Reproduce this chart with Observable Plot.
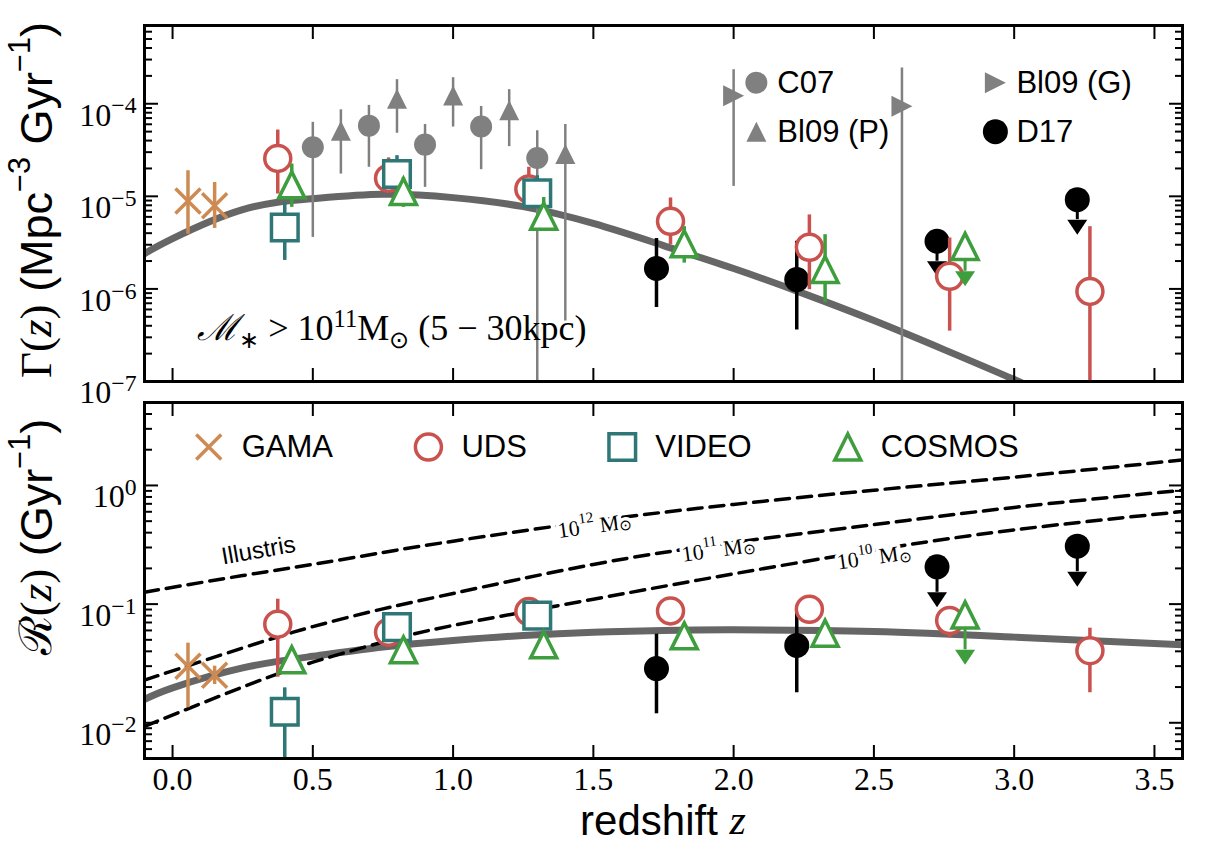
<!DOCTYPE html>
<html>
<head>
<meta charset="utf-8">
<script src="https://cdn.jsdelivr.net/npm/d3@7"></script>
<script src="https://cdn.jsdelivr.net/npm/@observablehq/plot@0.6"></script>
<style>
  html,body{margin:0;padding:0;background:#fff;}
  #chart{position:relative;width:1206px;height:852px;overflow:hidden;background:#fff;}
  #chart svg{display:block;position:absolute;left:0;overflow:visible;background:transparent !important;}
</style>
</head>
<body>
<div id="chart"></div>
<script>
// ---------------- data ----------------
const xTicks = [0, 0.5, 1, 1.5, 2, 2.5, 3, 3.5];
const gammaTicks = [1e-7, 1e-6, 1e-5, 1e-4];
const rateTicks = [1e-2, 1e-1, 1];

// GAMA
const gamaZ = [0.055, 0.15];
const gamaG = [8.9e-6, 7.9e-6];
const gamaGlo = [3.9e-6, 4.5e-6];
const gamaGhi = [1.89e-5, 1.41e-5];
const gamaR = [0.0299, 0.0251];
const gamaRlo = [0.0134, 0.021];
const gamaRhi = [0.0469, 0.030];

// UDS
const udsZ = [0.375, 0.77, 1.27, 1.775, 2.27, 2.77, 3.27];
const udsG = [2.57e-5, 1.57e-5, 1.2e-5, 5.37e-6, 2.82e-6, 1.37e-6, 9.4e-7];
const udsGlo = [1.06e-5, 1.2e-5, 8.6e-6, 3.0e-6, 9.8e-7, 3.5e-7, 1e-8];
const udsGhi = [5.2e-5, 2.6e-5, 2.06e-5, 9.6e-6, 6.3e-6, 3.55e-6, 4.7e-6];
const udsR = [0.0678, 0.058, 0.0865, 0.0877, 0.0905, 0.0727, 0.0405];
const udsRlo = [0.0242, 0.048, 0.078, 0.080, 0.082, 0.052, 0.0179];
const udsRhi = [0.110, 0.066, 0.095, 0.096, 0.099, 0.080, 0.0627];

// VIDEO
const videoZ = [0.40, 0.80, 1.30];
const videoG = [4.6e-6, 1.74e-5, 1.08e-5];
const videoGlo = [2.03e-6, 1.15e-5, 7.3e-6];
const videoGhi = [8.6e-6, 2.75e-5, 1.67e-5];
const videoR = [0.0124, 0.064, 0.080];
const videoRlo = [0.001, 0.057, 0.072];
const videoRhi = [0.0197, 0.071, 0.088];

// COSMOS
const cosmosZ = [0.425, 0.823, 1.323, 1.824, 2.326];
const cosmosG = [1.33e-5, 1.13e-5, 6.1e-6, 3.08e-6, 1.62e-6];
const cosmosGlo = [7.6e-6, 7.6e-6, 4.3e-6, 1.9e-6, 7.1e-7];
const cosmosGhi = [2.23e-5, 1.6e-5, 9.7e-6, 4.7e-6, 3.85e-6];
const cosmosR = [0.034, 0.0412, 0.0454, 0.054, 0.0569];
const cosmosRlo = [0.0293, 0.037, 0.041, 0.049, 0.052];
const cosmosRhi = [0.039, 0.046, 0.050, 0.059, 0.062];
// COSMOS upper limit
const cosmosUlZ = [2.825];
const cosmosUlG = [2.88e-6];
const cosmosUlGend = [1.55e-6];
const cosmosUlR = [0.0811];
const cosmosUlRend = [0.0412];

// D17
const d17Z = [1.725, 2.225];
const d17G = [1.66e-6, 1.26e-6];
const d17Glo = [6.3e-7, 3.6e-7];
const d17Ghi = [3.5e-6, 3.27e-6];
const d17R = [0.0286, 0.0449];
const d17Rlo = [0.0119, 0.0179];
const d17Rhi = [0.0558, 0.0838];
// D17 upper limits
const d17UlZ = [2.725, 3.225];
const d17UlG = [3.27e-6, 9.2e-6];
const d17UlGend = [1.99e-6, 5.6e-6];
const d17UlR = [0.206, 0.308];
const d17UlRend = [0.1257, 0.1874];

// C07 (grey circles)
const c07Z = [0.5, 0.7, 0.9, 1.1, 1.3];
const c07G = [3.39e-5, 5.8e-5, 3.62e-5, 5.68e-5, 2.6e-5];
const c07Glo = [3.6e-6, 2.06e-5, 1.25e-5, 1.94e-5, 1e-8];
const c07Ghi = [6.3e-5, 9.6e-5, 5.97e-5, 9.35e-5, 5.1e-5];

// Bl09 (P) (grey triangles)
const bl09pZ = [0.6, 0.8, 1.0, 1.2, 1.4];
const bl09pG = [5.1e-5, 1.13e-4, 1.23e-4, 8.5e-5, 2.87e-5];
const bl09pGlo = [1.74e-5, 4.8e-5, 5.6e-5, 3.44e-5, 4.5e-7];
const bl09pGhi = [8.6e-5, 1.82e-4, 1.91e-4, 1.42e-4, 5.97e-5];

// Bl09 (G) (grey right triangles)
const bl09gZ = [2.0, 2.6];
const bl09gG = [1.22e-4, 9.4e-5];
const bl09gGlo = [1.28e-5, 1e-8];
const bl09gGhi = [2.33e-4, 2.43e-4];

// fitted curves
const fitZ = [-0.1, 0, 0.25, 0.5, 0.75, 1.0, 1.25, 1.5, 1.75, 2.0, 2.25, 2.5, 2.75, 3.0, 3.25];
const fitGamma = [2.40e-6, 3.49e-6, 7.18e-6, 9.44e-6, 1.05e-5, 9.68e-6, 7.74e-6, 5.09e-6, 2.94e-6, 1.66e-6, 8.9e-7, 4.55e-7, 2.21e-7, 1.05e-7, 4.8e-8];
const fitRateZ = [-0.1, 0, 0.25, 0.5, 0.75, 1.0, 1.25, 1.5, 1.75, 2.0, 2.5, 3.0, 3.6];
const fitRate = [0.0157, 0.0197, 0.029, 0.0363, 0.0435, 0.0494, 0.0544, 0.058, 0.060, 0.0607, 0.0588, 0.0527, 0.0454];

// Illustris merger rates (dashed)
const illZ = [-0.1, 0.25, 0.5, 0.75, 1.0, 1.5, 2.0, 2.5, 3.0, 3.6];
const ill12 = [0.126, 0.174, 0.216, 0.272, 0.339, 0.501, 0.692, 0.912, 1.175, 1.64];
const ill11 = [0.0229, 0.0427, 0.0646, 0.0912, 0.123, 0.216, 0.331, 0.468, 0.653, 0.912];
const ill10 = [0.00933, 0.020, 0.0324, 0.0479, 0.0661, 0.110, 0.180, 0.285, 0.422, 0.603];
const illMassExp = ["12", "11", "10"];
const illLabelZ = [1.507, 1.948, 2.502];
const illLabelR = [0.46, 0.29, 0.25];
const illustrisZ = [0.306];
const illustrisR = [0.283];

// legends
const legTopLabels = ["C07", "Bl09 (P)", "Bl09 (G)", "D17"];
const legTopZ = [2.081, 2.081, 2.933, 2.933];
const legTopG = [1.69e-4, 4.99e-5, 1.69e-4, 4.99e-5];
const legBotLabels = ["GAMA", "UDS", "VIDEO", "COSMOS"];
const legBotZ = [0.129, 0.912, 1.603, 2.407];
const legBotR = [2.11, 2.11, 2.11, 2.11];

// annotation position
const annoZ = [0.09];
const annoG = [2.75e-7];

// ---------------- styles ----------------
const SANS = "'Liberation Sans', Arial, Helvetica, sans-serif";
const SERIF = "'Liberation Serif', 'Times New Roman', serif";
const GREY = "#808080", FIT = "#666666";
const C_GAMA = "#cd8b53", C_UDS = "#c9524f", C_VIDEO = "#2f7777", C_COSMOS = "#3e9e3e";

const rows = (z, v, lo, hi) => z.map((d, i) => ({z: d, v: v[i], lo: lo ? lo[i] : undefined, hi: hi ? hi[i] : undefined}));
const ulRows = (z, v, e) => z.map((d, i) => ({z: d, v: v[i], end: e[i]}));

// matplotlib-like marker shapes
const rr = s => Math.sqrt(s / Math.PI);
const SYM = {
  tri: {draw(c, s) { const r = rr(s); c.moveTo(0, -r); c.lineTo(r, r); c.lineTo(-r, r); c.closePath(); }},
  triRight: {draw(c, s) { const r = rr(s); c.moveTo(r, 0); c.lineTo(-r, r); c.lineTo(-r, -r); c.closePath(); }},
  caret: {draw(c, s) { const r = rr(s); c.moveTo(-r, 0); c.lineTo(r, 0); c.lineTo(0, 1.5 * r); c.closePath(); }},
  square: {draw(c, s) { const r = rr(s); c.moveTo(-r, -r); c.lineTo(r, -r); c.lineTo(r, r); c.lineTo(-r, r); c.closePath(); }},
  times: {draw(c, s) { const r = rr(s); c.moveTo(-r, -r); c.lineTo(r, r); c.moveTo(-r, r); c.lineTo(r, -r); }}
};

function minorTicks(lo, hi) {
  const t = [];
  for (let e = Math.floor(Math.log10(lo)); e <= Math.ceil(Math.log10(hi)); e++)
    for (let m = 2; m <= 9; m++) { const v = m * Math.pow(10, e); if (v >= lo * 0.999 && v <= hi * 1.001) t.push(v); }
  return t;
}

const TICK_FS = 32;
function frameMarks(major, domain) {
  const mn = minorTicks(domain[0], domain[1]);
  return [
    Plot.axisX(xTicks, {anchor: "bottom", tickSize: -13, strokeWidth: 2, fill: "none", label: null}),
    Plot.axisX(xTicks, {anchor: "top", tickSize: -13, strokeWidth: 2, fill: "none", label: null}),
    Plot.axisY(major, {anchor: "left", tickSize: -14, strokeWidth: 2, fill: "none", label: null}),
    Plot.axisY(mn, {anchor: "left", tickSize: -8, strokeWidth: 2, fill: "none", label: null}),
    Plot.axisY(major, {anchor: "right", tickSize: -14, strokeWidth: 2, fill: "none", label: null}),
    Plot.axisY(mn, {anchor: "right", tickSize: -8, strokeWidth: 2, fill: "none", label: null}),
    Plot.axisY(major, {anchor: "left", tickSize: 0, tickPadding: 8, label: null, fontSize: TICK_FS, fontFamily: SERIF,
      tickFormat: d => "10^" + Math.round(Math.log10(d))}),
    Plot.frame({stroke: "black", strokeWidth: 3})
  ];
}

function dataMarks(S) {
  const err = (data, color, w) => Plot.ruleX(data, {x: "z", y1: "lo", y2: "hi", stroke: color, strokeWidth: w, clip: true});
  return [
    err(S.gama, C_GAMA, 3.5),
    Plot.dot(S.gama, {x: "z", y: "v", symbol: SYM.times, r: 12.5, stroke: C_GAMA, strokeWidth: 3.5, fill: "none"}),
    err(S.d17, "black", 3.5),
    Plot.ruleX(S.d17ul, {x: "z", y1: "v", y2: "end", stroke: "black", strokeWidth: 3}),
    Plot.dot(S.d17ul, {x: "z", y: "end", symbol: SYM.caret, r: 10, fill: "black", stroke: "none"}),
    Plot.dot(S.d17.concat(S.d17ul), {x: "z", y: "v", r: 12.5, fill: "black", stroke: "none"}),
    err(S.uds, C_UDS, 3.5),
    Plot.dot(S.uds, {x: "z", y: "v", r: 13, stroke: C_UDS, strokeWidth: 3.5, fill: "white"}),
    err(S.video, C_VIDEO, 3.5),
    Plot.dot(S.video, {x: "z", y: "v", symbol: SYM.square, r: 13.3, stroke: C_VIDEO, strokeWidth: 3.5, fill: "white"}),
    err(S.cosmos, C_COSMOS, 3.5),
    Plot.ruleX(S.cosmosul, {x: "z", y1: "v", y2: "end", stroke: C_COSMOS, strokeWidth: 3}),
    Plot.dot(S.cosmosul, {x: "z", y: "end", symbol: SYM.caret, r: 10, fill: C_COSMOS, stroke: "none"}),
    Plot.dot(S.cosmos.concat(S.cosmosul), {x: "z", y: "v", symbol: SYM.tri, r: 13, stroke: C_COSMOS, strokeWidth: 3.5, fill: "white"})
  ];
}

// rich text helper (superscripts / subscripts as tspans)
function rich(sel, parts, size) {
  let shift = 0;
  parts.forEach(p => {
    const sp = sel.append("tspan").text(p.t);
    if (p.ff) sp.attr("font-family", p.ff);
    if (p.it) sp.attr("font-style", "italic");
    const target = p.sup ? -size * 0.38 : p.sub ? size * 0.22 : 0;
    const dy = target - shift;
    if (dy) sp.attr("dy", dy);
    shift = target;
    if (p.sup || p.sub) sp.attr("font-size", size * 0.68);
  });
}
function supTickLabels(svg, size) {
  d3.select(svg).selectAll('g[aria-label="y-axis tick label"] text').each(function () {
    const m = /^10\^(-?\d+)$/.exec(this.textContent);
    if (!m) return;
    const t = d3.select(this);
    t.text(null).attr("dy", "0.36em");
    t.append("tspan").text("10");
    t.append("tspan").attr("dy", -size * 0.38).attr("font-size", size * 0.74).text(m[1].replace("-", "−"));
  });
}

// ---------------- top panel ----------------
const gDomain = [1e-7, 7e-4];
const topS = {
  gama: rows(gamaZ, gamaG, gamaGlo, gamaGhi),
  uds: rows(udsZ, udsG, udsGlo, udsGhi),
  video: rows(videoZ, videoG, videoGlo, videoGhi),
  cosmos: rows(cosmosZ, cosmosG, cosmosGlo, cosmosGhi),
  cosmosul: ulRows(cosmosUlZ, cosmosUlG, cosmosUlGend),
  d17: rows(d17Z, d17G, d17Glo, d17Ghi),
  d17ul: ulRows(d17UlZ, d17UlG, d17UlGend)
};
const c07 = rows(c07Z, c07G, c07Glo, c07Ghi);
const bl09p = rows(bl09pZ, bl09pG, bl09pGlo, bl09pGhi);
const bl09g = rows(bl09gZ, bl09gG, bl09gGlo, bl09gGhi);
const legTop = legTopLabels.map((l, i) => ({label: l, z: legTopZ[i], v: legTopG[i]}));

const topPlot = Plot.plot({
  width: 1206, height: 391,
  marginLeft: 144, marginRight: 24, marginTop: 25, marginBottom: 10,
  x: {domain: [-0.1, 3.6], axis: null},
  y: {type: "log", domain: gDomain, axis: null},
  marks: [
    Plot.line(rows(fitZ, fitGamma), {x: "z", y: "v", stroke: FIT, strokeWidth: 7, curve: "natural", clip: true}),
    Plot.ruleX(c07.concat(bl09p, bl09g), {x: "z", y1: "lo", y2: "hi", stroke: GREY, strokeWidth: 2.5, clip: true}),
    Plot.dot(c07, {x: "z", y: "v", r: 11, fill: GREY, stroke: "none"}),
    Plot.dot(bl09p, {x: "z", y: "v", symbol: SYM.tri, r: 10, fill: GREY, stroke: "none"}),
    Plot.dot(bl09g, {x: "z", y: "v", symbol: SYM.triRight, r: 10.5, fill: GREY, stroke: "none"}),
    ...dataMarks(topS),
    // legend
    Plot.dot([legTop[0]], {x: "z", y: "v", r: 11, fill: GREY, stroke: "none"}),
    Plot.dot([legTop[1]], {x: "z", y: "v", symbol: SYM.tri, r: 10, fill: GREY, stroke: "none"}),
    Plot.dot([legTop[2]], {x: "z", y: "v", symbol: SYM.triRight, r: 10.5, fill: GREY, stroke: "none"}),
    Plot.dot([legTop[3]], {x: "z", y: "v", r: 12.5, fill: "black", stroke: "none"}),
    Plot.text(legTop, {x: "z", y: "v", text: "label", dx: 21, textAnchor: "start", fontSize: 31, fontFamily: SANS, fill: "black"}),
    ...frameMarks(gammaTicks, gDomain)
  ]
});
topPlot.style.top = "0px";
supTickLabels(topPlot, TICK_FS);

// annotation + y title (top)
{
  const sx = topPlot.scale("x"), sy = topPlot.scale("y");
  const svg = d3.select(topPlot);
  const a = svg.append("text").attr("x", sx.apply(annoZ[0])).attr("y", sy.apply(annoG[0]))
    .attr("text-anchor", "start")
    .attr("font-family", SERIF).attr("font-size", 36).attr("fill", "black");
  rich(a, [{t: "ℳ", it: true}, {t: "∗", sub: true}, {t: " > 10"}, {t: "11", sup: true}, {t: "M"}, {t: "⊙", sub: true}, {t: " (5 − 30kpc)"}], 36);
  const yt = svg.append("text").attr("transform", "translate(36,200) rotate(-90)")
    .attr("text-anchor", "middle").attr("dominant-baseline", "central")
    .attr("font-family", SANS).attr("font-size", 45).attr("fill", "black");
  rich(yt, [{t: "Γ(", ff: SERIF}, {t: "z", ff: SERIF, it: true}, {t: ")", ff: SERIF}, {t: " (Mpc"}, {t: "−3", sup: true}, {t: " Gyr"}, {t: "−1", sup: true}, {t: ")"}], 45);
}

// ---------------- bottom panel ----------------
const rDomain = [5e-3, 5];
const botS = {
  gama: rows(gamaZ, gamaR, gamaRlo, gamaRhi),
  uds: rows(udsZ, udsR, udsRlo, udsRhi),
  video: rows(videoZ, videoR, videoRlo, videoRhi),
  cosmos: rows(cosmosZ, cosmosR, cosmosRlo, cosmosRhi),
  cosmosul: ulRows(cosmosUlZ, cosmosUlR, cosmosUlRend),
  d17: rows(d17Z, d17R, d17Rlo, d17Rhi),
  d17ul: ulRows(d17UlZ, d17UlR, d17UlRend)
};
const legBot = legBotLabels.map((l, i) => ({label: l, z: legBotZ[i], v: legBotR[i]}));
const illRows = [ill12, ill11, ill10].flatMap((arr, k) => illZ.map((z, i) => ({z, v: arr[i], k})));

const botPlot = Plot.plot({
  width: 1206, height: 461,
  marginLeft: 144, marginRight: 24, marginTop: 11, marginBottom: 94,
  x: {domain: [-0.1, 3.6], axis: null},
  y: {type: "log", domain: rDomain, axis: null},
  marks: [
    Plot.line(rows(fitRateZ, fitRate), {x: "z", y: "v", stroke: FIT, strokeWidth: 7, curve: "natural", clip: true}),
    Plot.line(illRows, {x: "z", y: "v", z: "k", stroke: "black", strokeWidth: 3.5, strokeDasharray: "14,8", curve: "natural", clip: true}),
    Plot.text(illustrisZ.map((z, i) => ({z, v: illustrisR[i], label: "Illustris"})), {x: "z", y: "v", text: "label", rotate: -10, fontSize: 24, fontFamily: SANS, fill: "black"}),
    ...dataMarks(botS),
    // legend
    Plot.dot([legBot[0]], {x: "z", y: "v", symbol: SYM.times, r: 12.5, stroke: C_GAMA, strokeWidth: 3.5, fill: "none"}),
    Plot.dot([legBot[1]], {x: "z", y: "v", r: 13, stroke: C_UDS, strokeWidth: 3.5, fill: "white"}),
    Plot.dot([legBot[2]], {x: "z", y: "v", symbol: SYM.square, r: 13.3, stroke: C_VIDEO, strokeWidth: 3.5, fill: "white"}),
    Plot.dot([legBot[3]], {x: "z", y: "v", symbol: SYM.tri, r: 13, stroke: C_COSMOS, strokeWidth: 3.5, fill: "white"}),
    Plot.text(legBot, {x: "z", y: "v", text: "label", dx: 33, textAnchor: "start", fontSize: 31, fontFamily: SANS, fill: "black"}),
    ...frameMarks(rateTicks, rDomain),
    Plot.axisX(xTicks, {anchor: "bottom", tickSize: 0, tickPadding: 9, label: null, fontSize: TICK_FS, fontFamily: SERIF,
      tickFormat: d3.format(".1f")})
  ]
});
botPlot.style.top = "391px";
supTickLabels(botPlot, TICK_FS);
{
  const sx = botPlot.scale("x"), sy = botPlot.scale("y");
  const svg = d3.select(botPlot);
  // inline labels of the dashed Illustris lines (white halo breaks the dashes)
  illMassExp.forEach((e, i) => {
    const px = sx.apply(illLabelZ[i]), py = sy.apply(illLabelR[i]);
    const t = svg.append("text").attr("transform", `translate(${px},${py}) rotate(-8)`)
      .attr("text-anchor", "middle").attr("dominant-baseline", "central")
      .attr("font-family", SERIF).attr("font-size", 22).attr("fill", "black")
      .attr("stroke", "white").attr("stroke-width", 7).attr("paint-order", "stroke").attr("stroke-linejoin", "round");
    rich(t, [{t: "10"}, {t: e, sup: true}, {t: " M"}, {t: "⊙", sub: true}], 22);
  });
  const yt = svg.append("text").attr("transform", "translate(36,146) rotate(-90)")
    .attr("text-anchor", "middle").attr("dominant-baseline", "central")
    .attr("font-family", SANS).attr("font-size", 45).attr("fill", "black");
  rich(yt, [{t: "ℛ(", ff: SERIF}, {t: "z", ff: SERIF, it: true}, {t: ")", ff: SERIF}, {t: " (Gyr"}, {t: "−1", sup: true}, {t: ")"}], 45);
  const xl = svg.append("text").attr("x", 663).attr("y", 429)
    .attr("text-anchor", "middle").attr("dominant-baseline", "central")
    .attr("font-family", SANS).attr("font-size", 42).attr("fill", "black");
  rich(xl, [{t: "redshift "}, {t: "z", ff: SERIF, it: true}], 42);
}

const chart = document.getElementById("chart");
chart.appendChild(botPlot);
chart.appendChild(topPlot);
</script>
</body>
</html>
